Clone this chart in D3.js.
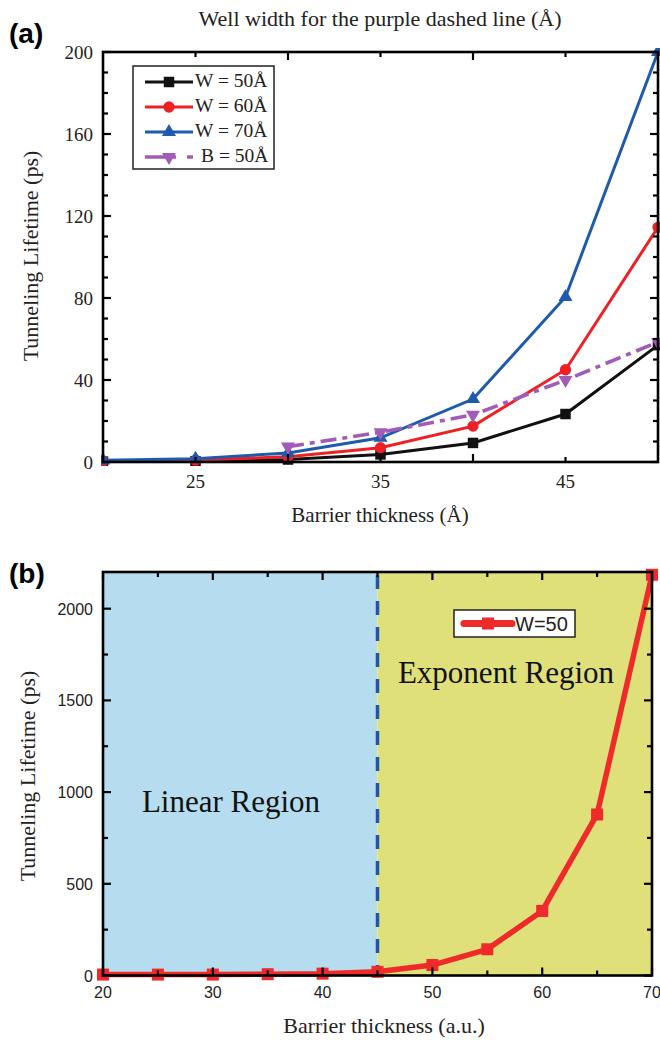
<!DOCTYPE html>
<html>
<head>
<meta charset="utf-8">
<script src="https://cdn.jsdelivr.net/npm/d3@7"></script>
<style>
  body { margin: 0; background: #fff; }
  svg { display: block; }
  .serif { font-family: "Liberation Serif", "DejaVu Serif", serif; }
  .sans { font-family: "Liberation Sans", Arial, sans-serif; }
</style>
</head>
<body>
<svg id="chart" width="660" height="1040"></svg>
<script>
// ---- data, panel (a) ----
const barrierA = [20, 25, 30, 35, 40, 45, 50];
const w50 = [0.2, 0.4, 1.2, 3.7, 9.3, 23.4, 57];
const w60 = [0.5, 0.9, 2.6, 7.0, 17.5, 45, 114.5];
const w70 = [0.8, 1.6, 4.4, 11.8, 30.7, 80.5, 200];
const barrierB50 = [30, 35, 40, 45, 50];
const b50 = [7.5, 14.5, 23, 40, 58.5];
const yTicksA = [0, 40, 80, 120, 160, 200];
const xLabelTicksA = [25, 35, 45];

// ---- data, panel (b) ----
const barrierB = [20, 25, 30, 35, 40, 45, 50, 55, 60, 65, 70];
const lifeW50 = [5, 5, 5, 7, 10, 20, 57, 143, 352, 878, 2185];
const yTicksB = [0, 500, 1000, 1500, 2000];
const xTicksB = [20, 30, 40, 50, 60, 70];

const svg = d3.select("#chart");

// helper: draw inward ticks on all four sides + the frame
function frameTicks(g, x, y, xMajor, xMinor, yMajor, yMinor) {
  const [x0, x1] = x.range();
  const [y0, y1] = y.range();
  const t = g.append("g").attr("stroke", "#000").attr("stroke-width", 2.2);
  xMajor.forEach(v => {
    t.append("line").attr("x1", x(v)).attr("x2", x(v)).attr("y1", y0).attr("y2", y0 - 8);
    t.append("line").attr("x1", x(v)).attr("x2", x(v)).attr("y1", y1).attr("y2", y1 + 8);
  });
  xMinor.forEach(v => {
    t.append("line").attr("x1", x(v)).attr("x2", x(v)).attr("y1", y0).attr("y2", y0 - 5);
    t.append("line").attr("x1", x(v)).attr("x2", x(v)).attr("y1", y1).attr("y2", y1 + 5);
  });
  yMajor.forEach(v => {
    t.append("line").attr("y1", y(v)).attr("y2", y(v)).attr("x1", x0).attr("x2", x0 + 8);
    t.append("line").attr("y1", y(v)).attr("y2", y(v)).attr("x1", x1).attr("x2", x1 - 8);
  });
  yMinor.forEach(v => {
    t.append("line").attr("y1", y(v)).attr("y2", y(v)).attr("x1", x0).attr("x2", x0 + 5);
    t.append("line").attr("y1", y(v)).attr("y2", y(v)).attr("x1", x1).attr("x2", x1 - 5);
  });
  g.append("rect")
    .attr("x", x0).attr("y", y1)
    .attr("width", x1 - x0).attr("height", y0 - y1)
    .attr("fill", "none").attr("stroke", "#000").attr("stroke-width", 2.6);
}

// ================= panel (a) =================
const ga = svg.append("g");
const xA = d3.scaleLinear().domain([20, 50]).range([103, 658]);
const yA = d3.scaleLinear().domain([0, 200]).range([462, 52]);

ga.append("text").attr("class", "sans").attr("x", 9).attr("y", 43)
  .attr("font-size", 28).attr("font-weight", "bold").text("(a)");
ga.append("text").attr("class", "serif").attr("x", 380).attr("y", 26)
  .attr("text-anchor", "middle").attr("font-size", 22).attr("fill", "#222")
  .text("Well width for the purple dashed line (Å)");

ga.append("clipPath").attr("id", "clipA").append("rect")
  .attr("x", 101).attr("y", 48).attr("width", 560).attr("height", 418);

const lineA = d3.line().x(d => xA(d[0])).y(d => yA(d[1]));
const seriesA = [
  { name: "W = 50Å", xs: barrierA, ys: w50, color: "#111111", sym: d3.symbolSquare, size: 110, rot: 0, dash: null, width: 3 },
  { name: "W = 60Å", xs: barrierA, ys: w60, color: "#ee2024", sym: d3.symbolCircle, size: 100, rot: 0, dash: null, width: 3 },
  { name: "W = 70Å", xs: barrierA, ys: w70, color: "#1f5bac", sym: d3.symbolTriangle, size: 85, rot: 0, dash: null, width: 3 },
  { name: "B = 50Å", xs: barrierB50, ys: b50, color: "#a25bb6", sym: d3.symbolTriangle, size: 85, rot: 180, dash: "16,6,5,6", width: 3.6 }
];

const plotA = ga.append("g").attr("clip-path", "url(#clipA)");
seriesA.forEach(s => {
  const pts = s.xs.map((v, i) => [v, s.ys[i]]);
  plotA.append("path").datum(pts)
    .attr("d", lineA).attr("fill", "none")
    .attr("stroke", s.color).attr("stroke-width", s.width)
    .attr("stroke-dasharray", s.dash);
  plotA.selectAll(null).data(pts).enter().append("path")
    .attr("d", d3.symbol().type(s.sym).size(s.size))
    .attr("transform", d => `translate(${xA(d[0])},${yA(d[1])}) rotate(${s.rot})`)
    .attr("fill", s.color);
});

frameTicks(ga, xA, yA, [30, 40], [25, 35, 45],
  yTicksA, d3.range(10, 200, 10).filter(v => v % 40 !== 0));

ga.selectAll(".ytA").data(yTicksA).enter().append("text")
  .attr("class", "serif").attr("x", 93).attr("y", d => yA(d) + 7)
  .attr("text-anchor", "end").attr("font-size", 19).attr("fill", "#222").text(d => d);
ga.selectAll(".xtA").data(xLabelTicksA).enter().append("text")
  .attr("class", "serif").attr("x", d => xA(d)).attr("y", 488)
  .attr("text-anchor", "middle").attr("font-size", 19).attr("fill", "#222").text(d => d);

ga.append("text").attr("class", "serif").attr("x", 380).attr("y", 522)
  .attr("text-anchor", "middle").attr("font-size", 21).attr("fill", "#222").text("Barrier thickness (Å)");
ga.append("text").attr("class", "serif")
  .attr("transform", "translate(38,256) rotate(-90)")
  .attr("text-anchor", "middle").attr("font-size", 22).attr("fill", "#222").text("Tunneling Lifetime (ps)");

// legend (a)
const legA = ga.append("g");
legA.append("rect").attr("x", 133).attr("y", 66).attr("width", 141).attr("height", 103)
  .attr("fill", "#fff").attr("stroke", "#222").attr("stroke-width", 1.5);
seriesA.forEach((s, i) => {
  const yy = 82 + i * 25;
  legA.append("line").attr("x1", 145).attr("x2", 193).attr("y1", yy).attr("y2", yy)
    .attr("stroke", s.color).attr("stroke-width", s.width)
    .attr("stroke-dasharray", s.dash ? "31,11,6,10" : null);
  legA.append("path").attr("d", d3.symbol().type(s.sym).size(s.size))
    .attr("transform", `translate(169,${yy}) rotate(${s.rot})`).attr("fill", s.color);
  legA.append("text").attr("class", "serif").attr("x", s.dash ? 201 : 195).attr("y", yy + 5)
    .attr("font-size", 19.5).attr("fill", "#222").text(s.name);
});

// ================= panel (b) =================
const gb = svg.append("g");
const xB = d3.scaleLinear().domain([20, 70]).range([103, 652]);
const yB = d3.scaleLinear().domain([0, 2200]).range([975.5, 572]);

gb.append("text").attr("class", "sans").attr("x", 9).attr("y", 583)
  .attr("font-size", 28).attr("font-weight", "bold").text("(b)");

gb.append("rect").attr("x", xB(20)).attr("y", yB(2200))
  .attr("width", xB(45) - xB(20)).attr("height", yB(0) - yB(2200)).attr("fill", "#b5ddef");
gb.append("rect").attr("x", xB(45)).attr("y", yB(2200))
  .attr("width", xB(70) - xB(45)).attr("height", yB(0) - yB(2200)).attr("fill", "#dfe07a");
gb.append("line").attr("x1", xB(45)).attr("x2", xB(45)).attr("y1", yB(2200) + 3).attr("y2", yB(0))
  .attr("stroke", "#2156a6").attr("stroke-width", 3.5).attr("stroke-dasharray", "14,12");

gb.append("text").attr("class", "serif").attr("x", 231).attr("y", 812)
  .attr("text-anchor", "middle").attr("font-size", 31).attr("fill", "#111").text("Linear Region");
gb.append("text").attr("class", "serif").attr("x", 506).attr("y", 683)
  .attr("text-anchor", "middle").attr("font-size", 31).attr("fill", "#111").text("Exponent Region");

const ptsB = barrierB.map((v, i) => [v, lifeW50[i]]);
const lineB = d3.line().x(d => xB(d[0])).y(d => yB(d[1]));
gb.append("path").datum(ptsB).attr("d", lineB).attr("fill", "none")
  .attr("stroke", "#ee2a2a").attr("stroke-width", 5.5).attr("stroke-linejoin", "round");
gb.selectAll(".mkB").data(ptsB).enter().append("rect")
  .attr("x", d => xB(d[0]) - 6).attr("y", d => yB(d[1]) - 6)
  .attr("width", 12).attr("height", 12).attr("fill", "#ee2a2a");

frameTicks(gb, xB, yB, xTicksB, [25, 35, 45, 55, 65],
  yTicksB, [250, 750, 1250, 1750]);

gb.selectAll(".ytB").data(yTicksB).enter().append("text")
  .attr("class", "sans").attr("x", 93).attr("y", d => yB(d) + 6)
  .attr("text-anchor", "end").attr("font-size", 16).attr("fill", "#222").text(d => d);
gb.selectAll(".xtB").data(xTicksB).enter().append("text")
  .attr("class", "sans").attr("x", d => xB(d)).attr("y", 998)
  .attr("text-anchor", "middle").attr("font-size", 16).attr("fill", "#222").text(d => d);

gb.append("text").attr("class", "serif").attr("x", 384).attr("y", 1033)
  .attr("text-anchor", "middle").attr("font-size", 22).attr("fill", "#222").text("Barrier thickness (a.u.)");
gb.append("text").attr("class", "serif")
  .attr("transform", "translate(35,776) rotate(-90)")
  .attr("text-anchor", "middle").attr("font-size", 22).attr("fill", "#222").text("Tunneling Lifetime (ps)");

// legend (b)
const legB = gb.append("g");
legB.append("rect").attr("x", 454).attr("y", 610).attr("width", 121).attr("height", 27)
  .attr("fill", "#fff").attr("stroke", "#222").attr("stroke-width", 1.5);
legB.append("line").attr("x1", 464).attr("x2", 512).attr("y1", 623.5).attr("y2", 623.5)
  .attr("stroke", "#ee2a2a").attr("stroke-width", 7).attr("stroke-linecap", "round");
legB.append("rect").attr("x", 482).attr("y", 617.5).attr("width", 12).attr("height", 12)
  .attr("fill", "#ee2a2a");
legB.append("text").attr("class", "sans").attr("x", 515).attr("y", 631)
  .attr("font-size", 20).attr("fill", "#222").text("W=50");
</script>
</body>
</html>
